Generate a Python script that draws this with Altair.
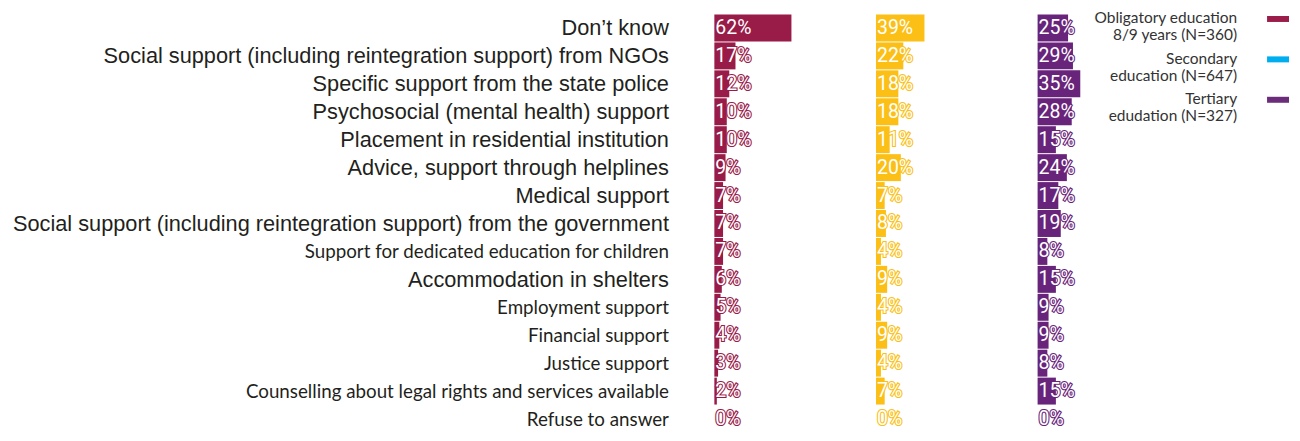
import altair as alt
import pandas as pd

categories = [
    "Don’t know",
    "Social support (including reintegration support) from NGOs",
    "Specific support from the state police",
    "Psychosocial (mental health) support",
    "Placement in residential institution",
    "Advice, support through helplines",
    "Medical support",
    "Social support (including reintegration support) from the government",
    "Support for dedicated education for children",
    "Accommodation in shelters",
    "Employment support",
    "Financial support",
    "Justice support",
    "Counselling about legal rights and services available",
    "Refuse to answer",
]
small_labels = [
    "Support for dedicated education for children",
    "Employment support",
    "Financial support",
    "Justice support",
    "Counselling about legal rights and services available",
    "Refuse to answer",
]
obligatory = [62, 17, 12, 10, 10, 9, 7, 7, 7, 6, 5, 4, 3, 2, 0]
secondary = [39, 22, 18, 18, 11, 20, 7, 8, 4, 9, 4, 9, 4, 7, 0]
tertiary = [25, 29, 35, 28, 15, 24, 17, 19, 8, 15, 9, 9, 8, 15, 0]

groups = ["Obligatory", "Secondary", "Tertiary"]
bar_colors = ["#981b48", "#fbbf16", "#68237a"]
legend_labels = [
    "Obligatory education\n8/9 years (N=360)",
    "Secondary \neducation (N=647)",
    "Tertiary\nedudation (N=327)",
]
legend_colors = ["#9b1d4a", "#00aeef", "#6b2c7a"]

rows = []
for g, vals in zip(groups, [obligatory, secondary, tertiary]):
    for c, v in zip(categories, vals):
        rows.append({"group": g, "category": c, "value": v, "label": f"{v}%"})
df = pd.DataFrame(rows)

legend_df = pd.DataFrame({"item": groups, "text": legend_labels, "color": legend_colors})

small_js = "[" + ",".join("'" + s + "'" for s in small_labels) + "]"
is_small = f"indexof({small_js}, datum.value) >= 0"

y_scale = alt.Scale(type="point", padding=0.34)
PANEL_H = 411


def panel(i, width, domain_max, show_axis):
    g = groups[i]
    c = bar_colors[i]
    if show_axis:
        axis = alt.Axis(
            title=None,
            domain=False,
            ticks=False,
            labelPadding=46,
            labelLimit=1000,
            labelColor="#231f20",
            labelFont={"expr": f"{is_small} ? 'Lato' : 'Liberation Sans'"},
            labelFontSize={"expr": f"{is_small} ? 18.8 : 21.8"},
        )
    else:
        axis = None
    y = alt.Y("category:N", sort=categories, scale=y_scale, axis=axis)
    base = alt.Chart(df).transform_filter(alt.datum.group == g)
    bars = base.mark_bar(color=c, height=27).encode(
        x=alt.X("value:Q", scale=alt.Scale(domain=[0, domain_max]), axis=None),
        y=y,
    )
    halo = base.mark_text(
        align="left", baseline="middle", dx=1, font="Roboto",
        fontSize=19.5, fill=c, stroke=c, strokeWidth=2.2,
    ).encode(x=alt.datum(0), y=y, text="label:N")
    text = base.mark_text(
        align="left", baseline="middle", dx=1, font="Roboto",
        fontSize=19.5, fill="white",
    ).encode(x=alt.datum(0), y=y, text="label:N")
    return alt.layer(bars, halo, text).properties(width=width, height=PANEL_H)


p1 = panel(0, 162, 124, True)
p2 = panel(1, 162, 124, False)
p3 = panel(2, 55, 55 / 162 * 124, False)

ly = alt.Y("item:N", sort=groups, axis=None, bandPosition=0,
           scale=alt.Scale(paddingInner=0, paddingOuter=0))
legend_base = alt.Chart(legend_df)
legend_text = legend_base.mark_text(
    align="right", baseline="middle", lineBreak="\n", lineHeight=17,
    font="Lato", fontSize=15.5, color="#333333", dy=0,
).encode(y=ly, x=alt.value(145), text="text:N")
legend_sw = legend_base.mark_rule(strokeWidth=6, yOffset=0.5).encode(
    y=ly, x=alt.value(175), x2=alt.value(197),
    color=alt.Color("color:N", scale=None),
)
legend = alt.layer(legend_text, legend_sw).properties(width=197, height=121.5)

chart = (
    alt.hconcat(p1, p2, p3, legend, spacing=0)
    .properties(padding={"left": 4, "top": 3, "right": 0, "bottom": 0})
    .configure_view(stroke=None)
)

chart.save("out.html", embed_options={"renderer": "svg", "actions": False})
